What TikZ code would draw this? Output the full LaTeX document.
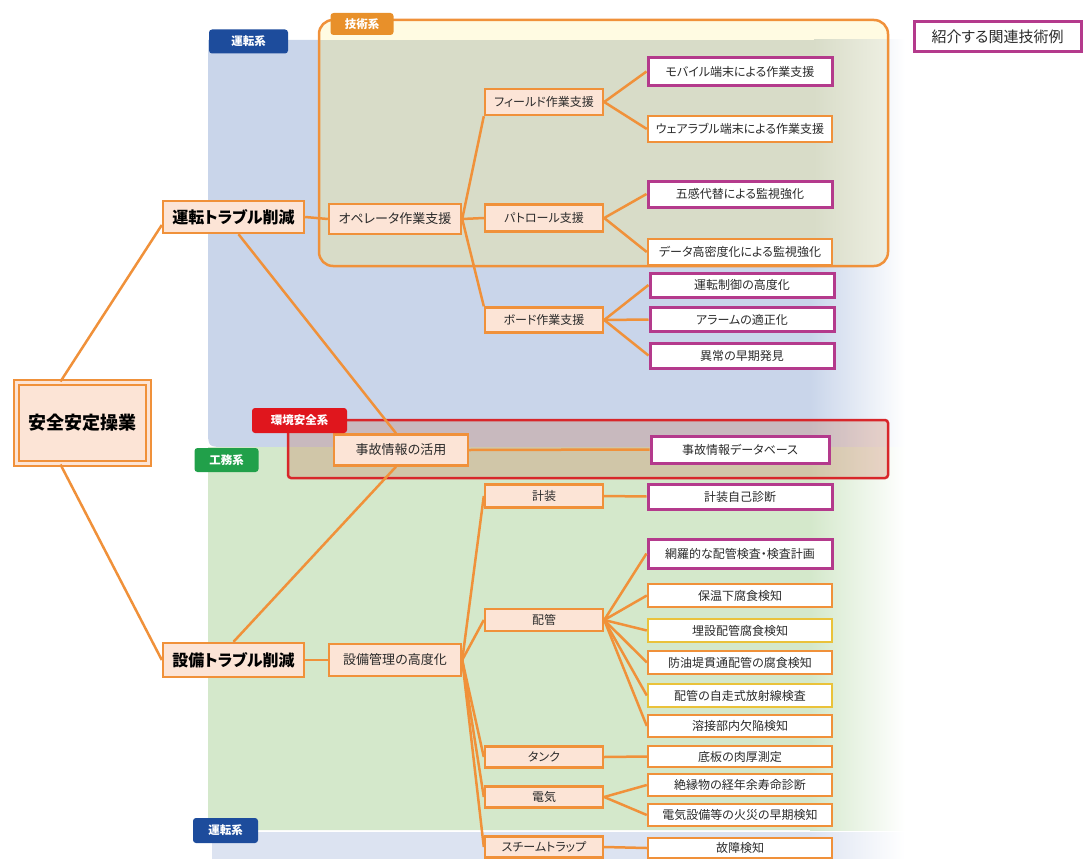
\documentclass[tikz,border=0pt]{standalone}
\usepackage{fontspec}
\setmainfont{Noto Sans CJK JP}[RawFeature=+palt]
\definecolor{lineor}{HTML}{F0913A}
\definecolor{peach}{HTML}{FCE4D6}
\definecolor{magc}{HTML}{B43A8C}
\definecolor{yelc}{HTML}{EAC23A}
\definecolor{bluebg}{HTML}{C9D5EA}
\definecolor{bluebg2}{HTML}{DCE3F1}
\definecolor{greenbg}{HTML}{D4E8CB}
\definecolor{yellowbg}{HTML}{FFFBE2}
\definecolor{techbg}{HTML}{D8DCC8}
\definecolor{techbg2}{HTML}{EEEFE2}
\definecolor{redbox}{HTML}{D8262A}
\definecolor{redov}{HTML}{C87A5A}
\definecolor{tagblue}{HTML}{1D4C9C}
\definecolor{taggreen}{HTML}{21A04A}
\definecolor{tagred}{HTML}{E0161D}
\definecolor{tagor}{HTML}{E8902A}
\definecolor{txt}{HTML}{2A2A2A}
\begin{document}
\begin{tikzpicture}[x=1pt,y=-1pt,
  conn/.style={draw=lineor, line width=2.5pt},
  box/.style={rectangle, draw=lineor, line width=2.4pt, fill=peach, inner sep=0pt, text=txt},
  lvone/.style={box, minimum width=141pt, minimum height=32pt, font=\bfseries\fontsize{16}{18}\selectfont, text=black},
  lvtwo/.style={box, minimum width=132pt, minimum height=30pt, font=\fontsize{13}{15}\selectfont},
  lvthree/.style={box, minimum width=118pt, font=\fontsize{12}{14}\selectfont},
  leaf/.style={rectangle, draw=lineor, fill=white, line width=2.4pt, inner sep=0pt, minimum width=184pt, text=txt, font=\fontsize{12}{14}\selectfont},
  leafm/.style={leaf, draw=magc, line width=3pt},
  leafy/.style={leaf, draw=yelc},
  tag/.style={rectangle, rounded corners=3pt, text=white, inner sep=0pt, font=\bfseries\fontsize{11.5}{13}\selectfont}]
\useasboundingbox (0,0) rectangle (1084,859);
% background regions
\fill[bluebg] (208,40) -- (830,40) -- (830,447) -- (226,447) .. controls (208,447) .. (208,429) -- cycle;
\shade[left color=bluebg, right color=white] (810,40) rectangle (905,447);
\fill[greenbg] (208,447) -- (830,447) -- (830,830) -- (226,830) .. controls (208,830) .. (208,812) -- cycle;
\shade[left color=greenbg, right color=white] (810,447) rectangle (905,830);
\fill[bluebg2] (212,832) rectangle (830,859);
\shade[left color=bluebg2, right color=white] (810,832) rectangle (905,859);
% technical box
\begin{scope}
  \clip[rounded corners=14pt] (319,20) rectangle (888,266);
  \fill[yellowbg] (319,20) rectangle (888,40);
  \fill[techbg] (319,40) rectangle (815,266);
  \shade[left color=techbg, right color=techbg2] (814,40) rectangle (888,266);
\end{scope}
\draw[lineor, line width=2.5pt, rounded corners=14pt] (319,20) rectangle (888,266);
% environment box
\fill[redov, opacity=0.3, rounded corners=3pt] (288,420) rectangle (888,478);
\draw[redbox, line width=2.5pt, rounded corners=3pt] (288,420) rectangle (888,478);
% nodes
\node[box, double=peach, double distance=3pt, line width=2pt, minimum width=132pt, minimum height=81pt, font=\bfseries\fontsize{18}{20}\selectfont, text=black] (root) at (82.5,423) {安全安定操業};
\node[lvone] (un) at (233.5,217) {運転トラブル削減};
\node[lvone, minimum height=34pt] (se) at (233.5,660) {設備トラブル削減};
\node[lvtwo] (op) at (395,219) {オペレータ作業支援};
\node[lvtwo, minimum width=134pt, minimum height=31pt] (ji) at (401,450) {事故情報の活用};
\node[lvtwo, minimum height=32pt] (kanri) at (395,660) {設備管理の高度化};
\node[lvthree, minimum height=26pt] (field) at (544,102) {フィールド作業支援};
\node[lvthree, minimum height=27pt] (patrol) at (544,218) {パトロール支援};
\node[lvthree, minimum height=25pt] (board) at (544,320) {ボード作業支援};
\node[lvthree, minimum height=23pt] (keiso) at (544,496) {計装};
\node[lvthree, minimum height=22pt] (haikan) at (544,620) {配管};
\node[lvthree, minimum height=21pt] (tank) at (544,757) {タンク};
\node[lvthree, minimum height=21pt] (denki) at (544,797) {電気};
\node[lvthree, minimum height=21pt] (steam) at (544,847) {スチームトラップ};
% leaves
\node[leafm, minimum height=27pt] (mob) at (740,71.5) {モバイル端末による作業支援};
\node[leaf, minimum height=26pt] (wear) at (740,129) {ウェアラブル端末による作業支援};
\node[leafm, minimum height=26pt] (gokan) at (740,194) {五感代替による監視強化};
\node[leaf, minimum height=26pt] (data) at (740,252) {データ高密度化による監視強化};
\node[leafm, minimum height=24pt] (unten) at (742,285) {運転制御の高度化};
\node[leafm, minimum height=24pt] (alarm) at (742,319.5) {アラームの適正化};
\node[leafm, minimum height=25pt] (ijo) at (742,355.5) {異常の早期発見};
\node[leafm, minimum height=27pt, minimum width=178pt] (jdb) at (740,449.5) {事故情報データベース};
\node[leafm, minimum height=25pt] (kjiko) at (740,496.5) {計装自己診断};
\node[leafm, minimum height=29pt] (mora) at (740,553.5) {網羅的な配管検査・検査計画};
\node[leaf, minimum height=23pt] (hoon) at (740,595.5) {保温下腐食検知};
\node[leafy, minimum height=23pt] (maisetsu) at (740,630.5) {埋設配管腐食検知};
\node[leaf, minimum height=23pt] (boyu) at (740,662.5) {防油堤貫通配管の腐食検知};
\node[leafy, minimum height=23pt] (jisou) at (740,695.5) {配管の自走式放射線検査};
\node[leaf, minimum height=22pt] (yousetsu) at (740,726) {溶接部内欠陥検知};
\node[leaf, minimum height=21pt] (sokoita) at (740,756.5) {底板の肉厚測定};
\node[leaf, minimum height=22pt] (zetsuen) at (740,785) {絶縁物の経年余寿命診断};
\node[leaf, minimum height=22pt] (kasai) at (740,815) {電気設備等の火災の早期検知};
\node[leaf, minimum height=20pt] (kosho) at (740,848) {故障検知};
\node[leafm, minimum width=167pt, minimum height=30pt, font=\fontsize{15}{17}\selectfont] (legend) at (997.5,36.5) {紹介する関連技術例};
% connectors
\draw[conn] ([xshift=-22pt]root.north) -- ([yshift=-8pt]un.west);
\draw[conn] ([xshift=-22pt]root.south) -- (se.west);
\draw[conn] (un.east) -- (op.west);
\draw[conn] (se.east) -- (kanri.west);
\draw[conn] ([xshift=5pt]un.south) -- ([xshift=-5pt]ji.north);
\draw[conn] (se.north) -- ([xshift=-5pt]ji.south);
\draw[conn] (op.east) -- (field.south west);
\draw[conn] (op.east) -- (patrol.west);
\draw[conn] (op.east) -- (board.north west);
\draw[conn] (ji.east) -- (jdb.west);
\foreach \c in {keiso, haikan, tank, denki, steam}
  \draw[conn] (kanri.east) -- (\c.west);
\foreach \c in {mob, wear} \draw[conn] (field.east) -- (\c.west);
\foreach \c in {gokan, data} \draw[conn] (patrol.east) -- (\c.west);
\foreach \c in {unten, alarm, ijo} \draw[conn] (board.east) -- (\c.west);
\draw[conn] (keiso.east) -- (kjiko.west);
\foreach \c in {mora, hoon, maisetsu, boyu, jisou, yousetsu} \draw[conn] (haikan.east) -- (\c.west);
\draw[conn] (tank.east) -- (sokoita.west);
\foreach \c in {zetsuen, kasai} \draw[conn] (denki.east) -- (\c.west);
\draw[conn] (steam.east) -- (kosho.west);
% tags
\node[tag, fill=tagblue, minimum width=79pt, minimum height=24pt] (tunten) at (248.5,41.5) {運転系};
\node[tag, fill=tagor, minimum width=63pt, minimum height=22pt] (tgijutsu) at (362,24) {技術系};
\node[tag, fill=tagred, minimum width=95pt, minimum height=25pt] (tkankyo) at (299.5,420.5) {環境安全系};
\node[tag, fill=taggreen, minimum width=64pt, minimum height=24pt] (tkomu) at (226.5,460) {工務系};
\node[tag, fill=tagblue, minimum width=65pt, minimum height=25pt] (tunten2) at (225.5,830.5) {運転系};
\end{tikzpicture}
\end{document}
